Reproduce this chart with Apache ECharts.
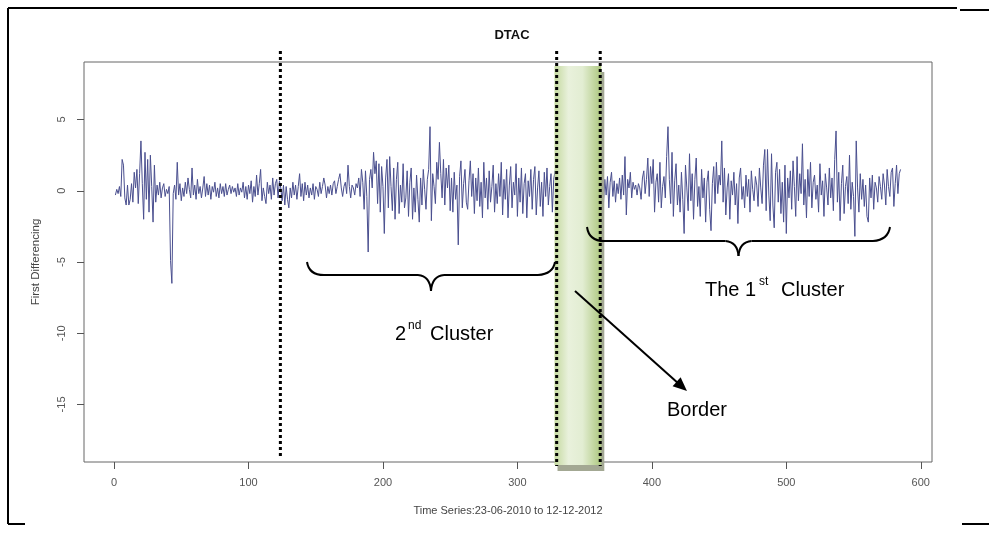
<!DOCTYPE html>
<html>
<head>
<meta charset="utf-8">
<script src="https://cdn.jsdelivr.net/npm/echarts@6/dist/echarts.min.js"></script>
<style>html,body{margin:0;padding:0;background:#fff;}#c{width:989px;height:534px;}</style>
</head>
<body>
<div id="c"></div>
<script>
// ---- data ----
const chartTitle = 'DTAC';
const xAxisTitle = 'Time Series:23-06-2010 to 12-12-2012';
const yAxisTitle = 'First Differencing';
const xTicks = [0, 100, 200, 300, 400, 500, 600];
const yTicks = [-15, -10, -5, 0, 5];
const firstIndex = 1;
const borderLines = [123.7, 329.2, 361.6];
const borderBand = [327.6, 362.4];
const firstDiff = [
 -0.3, 0.1, -0.2, 0.3, -0.4, 2.2, 1.8, -0.5, -1.0, 0.4,
 -1.0, -0.6, 0.5, -0.8, 1.3, 0.2, 1.5, -0.9, 1.2, 3.5,
 0.5, -2.0, 2.7, -0.6, 2.2, -1.5, 2.5, 0.3, -2.2, 1.8,
 -0.8, 0.4, -0.3, 0.6, -0.5, 0.2, 0.5, -0.4, 0.1, -0.2,
 0.3, -4.9, -6.5, -0.2, 0.4, -0.6, 2.0, -0.3, 0.5, -0.7,
 0.2, -0.4, 0.6, -0.2, 0.9, 0.1, -0.5, 1.6, -0.3, 0.4,
 -0.6, 0.8, -0.2, 0.3, -0.5, 0.2, 1.0, -0.4, 0.5, -0.3,
 0.4, -0.6, 0.3, -0.1, 0.6, -0.4, 0.2, -0.5, 0.5, -0.2,
 0.3, -0.4, 0.5, -0.3, 0.1, 0.4, -0.2, 0.3, -0.1, 0.2,
 -0.4, 0.5, -0.3, 0.2, -0.1, 0.6, -0.5, 0.3, -0.6, 0.4,
 -0.2, 0.7, -0.8, 0.3, -0.4, 1.1, -0.3, 0.5, 1.5, -0.7,
 0.2, -0.4, -0.9, 0.6, -0.2, 0.4, -0.6, 0.9, -0.3, 0.5,
 0.8, -0.5, 0.7, 0.2, -0.7, 0.4, -1.0, 0.3, -0.6, -1.2,
 0.2, -0.5, 0.6, -0.3, 0.4, -0.6, 0.3, 1.2, -0.4, 0.5,
 -0.7, 0.6, -0.3, 0.4, -0.5, 0.2, -0.3, 0.5, -0.6, 0.3,
 0.1, -0.4, 0.6, -0.2, 0.3, 0.9, 0.4, -0.5, 0.3, -0.2,
 0.4, -0.3, 0.5, 0.7, -0.2, 0.3, 0.8, 1.2, 0.2, -0.4,
 0.3, 0.6, -0.2, 1.8, 0.3, -0.5, 0.4, 0.2, -0.3, 0.5,
 0.2, 0.9, -0.4, 1.5, 0.6, -1.3, 1.4, -0.4, -4.3, 0.8,
 1.5, 0.2, 2.7, 1.2, 2.1, -0.9, 1.9, -1.5, 1.7, 0.3,
 -3.0, 0.9, 2.2, -1.2, 2.4, 0.3, -1.4, 1.6, -2.0, 0.8,
 2.0, -1.6, 0.4, -0.8, 1.9, -1.2, -0.5, 1.4, -1.8, 0.6,
 1.6, -2.0, 0.2, -1.5, 1.1, -0.6, -2.2, 0.9, -1.0, 1.5,
 0.1, -1.3, 0.8, 1.5, 4.5, -2.1, 1.2, 0.3, -0.9, 2.0,
 0.8, 3.4, 1.2, -0.5, 2.2, -1.0, 1.6, 0.2, 1.8, -1.4,
 0.9, -1.5, 1.3, -0.6, 0.4, -3.8, 1.0, 2.1, -1.2, 0.5,
 1.5, -0.8, -1.3, 0.7, 2.1, -0.4, 1.2, -1.6, 0.9, -0.7,
 1.6, -1.1, 0.6, -1.9, 2.0, -0.5, 0.9, -1.3, 1.4, -0.8,
 0.3, 1.8, -1.5, 0.5, -0.9, 1.2, -0.4, 2.0, -1.7, 0.8,
 -0.6, 1.5, -1.9, 0.4, 1.7, -1.2, 0.6, -0.3, 1.9, -1.8,
 0.9, -0.8, 1.6, -1.6, 0.5, 1.2, -1.9, 0.7, -0.4, 1.5,
 -1.3, 0.8, 1.7, -1.7, 0.2, 1.4, -1.1, 0.6, -1.8, 1.3,
 -0.4, 1.6, -1.0, 0.3, 1.2, -1.5, 0.8, 1.4, -0.2, 0.6,
 null, null, null, null, null, null, null, null, null, null,
 null, null, null, null, null, null, null, null, null, null,
 null, null, null, null, null, null, null, null, null, null,
 null,
 -0.5, 0.4, -0.9, 0.8, -0.3, 1.0, -1.2, 0.6, 1.3,
 -0.4, 0.7, -0.8, 0.5, -0.2, 0.9, -0.6, 1.1, -0.3, 2.4,
 -1.7, 0.8, 0.2, 1.3, -0.5, 0.6, 0.1, 0.4, -0.3, 0.5,
 0.2, -0.6, 0.9, 1.4, -0.2, 0.8, 2.3, -0.4, 1.7, 0.5,
 2.2, -1.5, 0.6, 1.2, -0.8, 2.0, -1.2, 0.3, 1.0, -0.5,
 2.4, 4.5, 0.8, -0.9, 2.7, -1.8, 0.7, 1.9, -1.0, 0.4,
 -1.5, 1.3, -0.6, -3.0, 1.8, 0.2, -1.4, 2.6, -0.7, 1.2,
 -2.0, 0.8, 2.3, -1.1, 0.3, -1.8, 1.5, -0.5, 0.9, -2.2,
 0.6, 1.4, -1.3, -2.8, 0.5, 1.7, -0.9, 2.0, -0.2, 1.1,
 0.4, 3.5, -0.8, 1.6, -1.7, 0.2, 1.2, -2.0, 0.7, -0.3,
 1.3, -1.0, 0.5, -2.3, 0.9, 1.6, -0.6, 0.3, -1.2, 1.1,
 -0.4, 0.8, -1.5, 1.4, 0.1, -0.7, 1.0, 0.4, -1.1, 1.6,
 0.2, -0.9, 1.8, 2.9, -1.4, 2.9, -0.3, -2.1, 2.6, -1.0,
 -2.6, 1.3, 2.0, -0.8, 1.5, -1.6, 0.6, -2.2, 1.8, -3.0,
 0.9, -0.5, 1.4, -1.3, 2.1, 0.3, -1.8, 2.4, -0.7, 1.2,
 -0.2, 3.3, -1.0, 0.8, -1.9, 1.5, -0.4, 2.0, -1.2, 0.6,
 1.1, -0.6, 0.4, -1.5, 1.9, -0.3, 0.7, -1.8, 1.2, 0.2,
 -1.0, 1.6, -0.5, 0.9, -1.4, 2.2, 4.2, -0.8, 1.3, -2.1,
 0.5, 1.8, -1.6, 0.3, 1.0, -0.9, 2.5, -1.3, 0.6, -0.4,
 -3.2, 3.5, 0.2, -1.5, 1.2, -0.6, 0.8, -1.1, 0.4, -1.8,
 -2.2, 0.9, -0.5, 1.1, -1.3, 0.6, 0.2, -0.8, 1.0, 0.3,
 -0.6, 1.2, 0.4, -1.0, 1.5, 0.3, -0.4, 1.3, 1.6, -1.1,
 0.5, 1.8, -0.2, 1.2, 1.5
];

// ---- chart ----
const chart = echarts.init(document.getElementById('c'), null, {renderer: 'canvas'});
const seriesData = firstDiff.map((v, i) => [i + firstIndex, v]);
const axisGrey = '#555';
const font = "'Liberation Sans', Arial, sans-serif";

chart.setOption({
  animation: false,
  backgroundColor: '#fff',
  title: {
    text: chartTitle, left: 507, top: 24, textAlign: 'center',
    textStyle: {fontFamily: font, fontSize: 13, fontWeight: 'bold', color: '#111'}
  },
  grid: {left: 84, right: 57, top: 62, bottom: 72, show: true, borderColor: '#666', borderWidth: 1, outerBoundsMode: 'none', containLabel: false},
  xAxis: {
    type: 'value', min: -22.36, max: 608.36,
    name: xAxisTitle, nameLocation: 'middle', nameGap: 43,
    nameTextStyle: {fontFamily: font, fontSize: 11, color: '#444'},
    axisLine: {show: false, onZero: false},
    axisTick: {show: true, length: 7, customValues: xTicks, lineStyle: {color: axisGrey}},
    axisLabel: {customValues: xTicks, fontFamily: font, fontSize: 11, color: axisGrey, margin: 15},
    splitLine: {show: false}
  },
  yAxis: {
    type: 'value', min: -19.04, max: 9.04,
    name: yAxisTitle, nameLocation: 'middle', nameGap: 42,
    nameTextStyle: {fontFamily: font, fontSize: 11.5, color: '#444'},
    axisLine: {show: false, onZero: false},
    axisTick: {show: true, length: 7, customValues: yTicks, lineStyle: {color: axisGrey}},
    axisLabel: {customValues: yTicks, rotate: 90, fontFamily: font, fontSize: 11, color: axisGrey, margin: 17},
    splitLine: {show: false}
  },
  series: [{
    type: 'line', data: seriesData, showSymbol: false, connectNulls: false,
    lineStyle: {color: '#4a4f8f', width: 1}, z: 2
  }]
});

function px(x, y) { return chart.convertToPixel({gridIndex: 0}, [x, y]); }

const g = [];
// green border band with shadow
const bl = px(borderBand[0], 0)[0], br = px(borderBand[1], 0)[0];
const bandTop = 66, bandBottom = 465;
g.push({type: 'rect', z: 50, shape: {x: bl + 3, y: bandTop + 6, width: br - bl, height: bandBottom - bandTop}, style: {fill: '#a3a893'}});
g.push({type: 'rect', z: 51, shape: {x: bl, y: bandTop, width: br - bl, height: bandBottom - bandTop},
  style: {fill: new echarts.graphic.LinearGradient(0, 0, 1, 0, [
    {offset: 0, color: '#c4d99e'}, {offset: 0.3, color: '#e9f1dc'}, {offset: 0.6, color: '#e2edd2'}, {offset: 1, color: '#adc77f'}
  ])}});
// dotted vertical lines
borderLines.forEach((bx, i) => {
  const x = px(bx, 0)[0];
  g.push({type: 'line', z: 60, shape: {x1: x, y1: 51, x2: x, y2: i === 0 ? 456 : 466},
    style: {stroke: '#000', lineWidth: 3, lineDash: [3, 3]}});
});
// braces built from quadratic curves and straight segments
function brace(x0, x1, yTop, yMid, yTip) {
  const c = (x0 + x1) / 2;
  const parts = [
    {type: 'bezierCurve', shape: {x1: x0, y1: yTop, cpx1: x0 + 2, cpy1: yMid, x2: x0 + 17, y2: yMid}},
    {type: 'line', shape: {x1: x0 + 17, y1: yMid, x2: c - 13, y2: yMid}},
    {type: 'bezierCurve', shape: {x1: c - 13, y1: yMid, cpx1: c - 1, cpy1: yMid + 1, x2: c, y2: yTip}},
    {type: 'bezierCurve', shape: {x1: c, y1: yTip, cpx1: c + 1, cpy1: yMid + 1, x2: c + 13, y2: yMid}},
    {type: 'line', shape: {x1: c + 13, y1: yMid, x2: x1 - 17, y2: yMid}},
    {type: 'bezierCurve', shape: {x1: x1 - 17, y1: yMid, cpx1: x1 - 2, cpy1: yMid - 1, x2: x1, y2: yTop}}
  ];
  parts.forEach(p => { p.z = 60; p.style = {stroke: '#000', lineWidth: 2, fill: null}; g.push(p); });
}
brace(307, 555, 262, 275, 291);
brace(587, 890, 227, 241, 256);
// arrow
g.push({type: 'line', z: 60, shape: {x1: 575, y1: 291, x2: 679, y2: 384}, style: {stroke: '#000', lineWidth: 2}});
g.push({type: 'polygon', z: 60, shape: {points: [[687, 391], [672.6, 386.2], [680.6, 377.2]]}, style: {fill: '#000'}});
// annotation texts
const aFont = "'Liberation Sans', 'Open Sans', sans-serif";
function txt(t, x, y, size) {
  g.push({type: 'text', z: 60, x: x, y: y, style: {text: t, fontFamily: aFont, fontSize: size, fill: '#000', align: 'left', verticalAlign: 'bottom'}});
}
txt('2', 395, 344, 20); txt('nd', 408, 332, 12); txt('Cluster', 430, 344, 20);
txt('The 1', 705, 300, 20); txt('st', 759, 288, 12); txt('Cluster', 781, 300, 20);
txt('Border', 667, 420, 20);
// outer frame
const frame = [[8, 8, 8, 524], [8, 8, 957, 8], [960, 10, 989, 10], [8, 524, 25, 524], [962, 524, 989, 524]];
frame.forEach(f => g.push({type: 'line', z: 70, shape: {x1: f[0], y1: f[1], x2: f[2], y2: f[3]}, style: {stroke: '#000', lineWidth: 2}}));

chart.setOption({graphic: g});
</script>
</body>
</html>
